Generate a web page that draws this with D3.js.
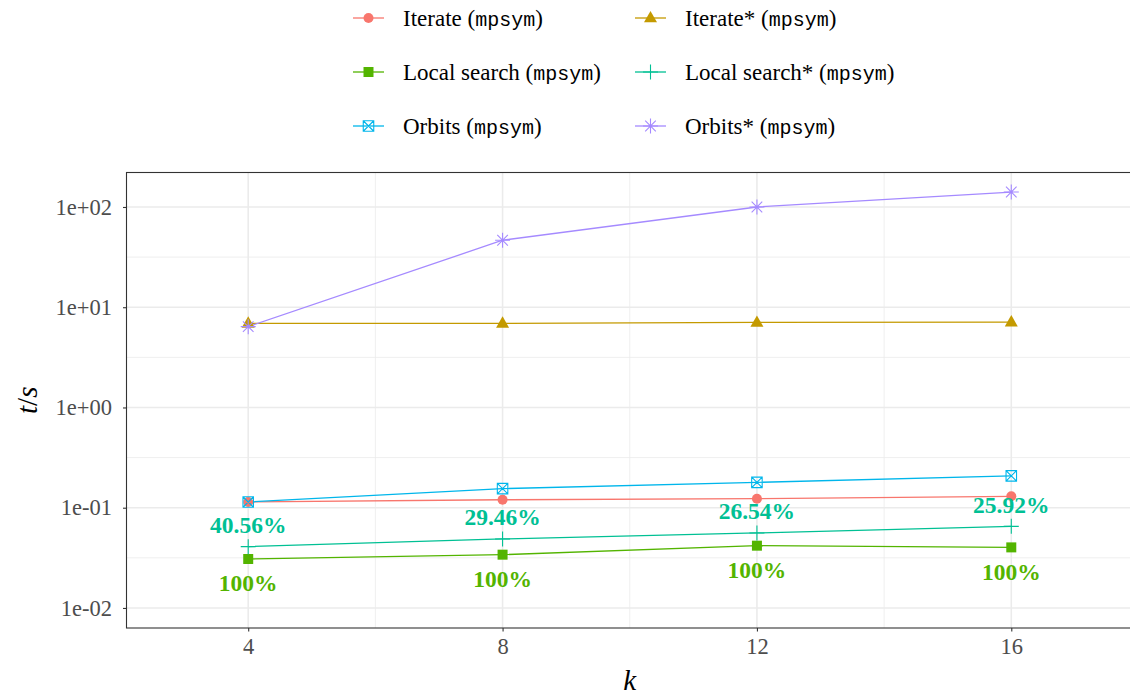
<!doctype html>
<html lang="en">
<head>
<meta charset="utf-8" />
<title>t/s vs k (mpsym)</title>
<script src="https://d3js.org/d3.v7.min.js"></script>
<style>
  body { margin: 0; background: #fff; }
  svg text { font-family: "Liberation Serif", "Times New Roman", serif; }
  .mono { font-family: "Liberation Mono", "DejaVu Sans Mono", monospace; }
</style>
</head>
<body>
<div id="chart"></div>
<script>
// data
var ks = [4, 8, 12, 16];
var seriesNames = ["Iterate", "Iterate*", "Local search", "Local search*", "Orbits", "Orbits*"];
var iterate = [0.114, 0.120, 0.123, 0.130];
var iterateStar = [6.9, 6.9, 7.05, 7.1];
var localSearch = [0.0308, 0.034, 0.0418, 0.0402];
var localSearchStar = [0.0409, 0.0488, 0.056, 0.0652];
var orbits = [0.114, 0.155, 0.179, 0.208];
var orbitsStar = [6.4, 46.6, 100, 141];
var starLabels = ["40.56%", "29.46%", "26.54%", "25.92%"];
var localLabels = ["100%", "100%", "100%", "100%"];
var xTicks = [4, 8, 12, 16];
var yTicks = [0.01, 0.1, 1, 10, 100];
var yTickLabels = ["1e-02", "1e-01", "1e+00", "1e+01", "1e+02"];

var colors = ["#F8766D", "#C49A00", "#53B400", "#00C094", "#00B6EB", "#A58AFF"];
var shapes = ["circle", "triangle", "square", "plus", "squarecross", "asterisk"];
var allValues = [iterate, iterateStar, localSearch, localSearchStar, orbits, orbitsStar];

var series = seriesNames.map(function (name, i) {
    return {
        name: name,
        color: colors[i],
        shape: shapes[i],
        values: ks.map(function (k, j) { return { k: k, v: allValues[i][j] }; })
    };
});

var width = 1130, height = 698;
var panel = { left: 126.5, top: 172.5, right: 1133, bottom: 628 };

var svg = d3.select("#chart").append("svg")
    .attr("width", width)
    .attr("height", height);

var x = d3.scaleLinear().domain([2.086, 17.914]).range([panel.left, panel.right]);
var y = d3.scaleLog().domain([Math.pow(10, -2.2), Math.pow(10, 2.344)]).range([panel.bottom, panel.top]);

// grid
var grid = svg.append("g");
[6, 10, 14].forEach(function (k) {
    grid.append("line").attr("x1", x(k)).attr("x2", x(k))
        .attr("y1", panel.top).attr("y2", panel.bottom)
        .attr("stroke", "#EBEBEB").attr("stroke-width", 0.8);
});
[-1.5, -0.5, 0.5, 1.5].forEach(function (e) {
    grid.append("line").attr("x1", panel.left).attr("x2", panel.right)
        .attr("y1", y(Math.pow(10, e))).attr("y2", y(Math.pow(10, e)))
        .attr("stroke", "#EBEBEB").attr("stroke-width", 0.8);
});
xTicks.forEach(function (k) {
    grid.append("line").attr("x1", x(k)).attr("x2", x(k))
        .attr("y1", panel.top).attr("y2", panel.bottom)
        .attr("stroke", "#EBEBEB").attr("stroke-width", 1.6);
});
yTicks.forEach(function (v) {
    grid.append("line").attr("x1", panel.left).attr("x2", panel.right)
        .attr("y1", y(v)).attr("y2", y(v))
        .attr("stroke", "#EBEBEB").attr("stroke-width", 1.6);
});

// marker paths, centred on 0,0
function markerPath(shape, s) {
    if (shape === "circle") return d3.symbol(d3.symbolCircle, Math.PI * s * s / 4)();
    if (shape === "square") return "M" + (-s / 2) + "," + (-s / 2) + "h" + s + "v" + s + "h" + (-s) + "z";
    if (shape === "triangle") {
        var h = s * 0.87;
        return "M0," + (-h * 0.62) + "L" + (s / 2) + "," + (h * 0.38) + "L" + (-s / 2) + "," + (h * 0.38) + "z";
    }
    if (shape === "plus") return "M" + (-s / 2) + ",0H" + (s / 2) + "M0," + (-s / 2) + "V" + (s / 2);
    if (shape === "squarecross") {
        var a = s / 2;
        return "M" + (-a) + "," + (-a) + "h" + s + "v" + s + "h" + (-s) + "z" +
            "M" + (-a) + "," + (-a) + "L" + a + "," + a + "M" + a + "," + (-a) + "L" + (-a) + "," + a;
    }
    if (shape === "asterisk") {
        var r = s / 2, d = r * 0.7071;
        return "M" + (-r) + ",0H" + r + "M" + (-d) + "," + (-d) + "L" + d + "," + d +
            "M" + d + "," + (-d) + "L" + (-d) + "," + d + "M0," + (-r) + "V" + r;
    }
}
var markerSize = { circle: 10, triangle: 13, square: 10, plus: 15, squarecross: 10.5, asterisk: 15 };
function isFilled(shape) { return shape === "circle" || shape === "square" || shape === "triangle"; }

function drawMarker(g, shape, color) {
    g.append("path")
        .attr("d", markerPath(shape, markerSize[shape]))
        .attr("fill", isFilled(shape) ? color : "none")
        .attr("stroke", color)
        .attr("stroke-width", isFilled(shape) ? 0 : 1.1);
}

// lines
var line = d3.line().x(function (d) { return x(d.k); }).y(function (d) { return y(d.v); });
svg.append("g").selectAll("path")
    .data(series)
    .enter().append("path")
    .attr("d", function (d) { return line(d.values); })
    .attr("fill", "none")
    .attr("stroke", function (d) { return d.color; })
    .attr("stroke-width", 1.3);

// points
series.forEach(function (s) {
    s.values.forEach(function (p) {
        var g = svg.append("g").attr("transform", "translate(" + x(p.k) + "," + y(p.v) + ")");
        drawMarker(g, s.shape, s.color);
    });
});

// percentage labels
svg.append("g").selectAll("text")
    .data(ks)
    .enter().append("text")
    .attr("x", function (k) { return x(k); })
    .attr("y", function (k, i) { return y(localSearchStar[i]) - 22; })
    .attr("dy", "0.35em")
    .attr("text-anchor", "middle")
    .attr("font-weight", "bold")
    .attr("font-size", 23.5)
    .attr("fill", colors[3])
    .text(function (k, i) { return starLabels[i]; });

svg.append("g").selectAll("text")
    .data(ks)
    .enter().append("text")
    .attr("x", function (k) { return x(k); })
    .attr("y", function (k, i) { return y(localSearch[i]) + 24; })
    .attr("dy", "0.35em")
    .attr("text-anchor", "middle")
    .attr("font-weight", "bold")
    .attr("font-size", 23.5)
    .attr("fill", colors[2])
    .text(function (k, i) { return localLabels[i]; });

// panel border
svg.append("rect")
    .attr("x", panel.left).attr("y", panel.top)
    .attr("width", panel.right - panel.left).attr("height", panel.bottom - panel.top)
    .attr("fill", "none").attr("stroke", "#333333").attr("stroke-width", 1.1);

// axes
var xAxis = d3.axisBottom(x).tickValues(xTicks).tickSize(3.5).tickPadding(7).tickSizeOuter(0);
var gx = svg.append("g").attr("transform", "translate(0," + panel.bottom + ")").call(xAxis);
gx.select(".domain").remove();
gx.selectAll("line").attr("stroke", "#333333").attr("stroke-width", 1.1);
gx.selectAll("text").attr("font-size", 22.5).attr("fill", "#4D4D4D")
    .attr("font-family", "Liberation Serif, serif");

var yAxis = d3.axisLeft(y).tickValues(yTicks)
    .tickFormat(function (d, i) { return yTickLabels[i]; })
    .tickSize(3.5).tickPadding(11).tickSizeOuter(0);
var gy = svg.append("g").attr("transform", "translate(" + panel.left + ",0)").call(yAxis);
gy.select(".domain").remove();
gy.selectAll("line").attr("stroke", "#333333").attr("stroke-width", 1.1);
gy.selectAll("text").attr("font-size", 22.5).attr("fill", "#4D4D4D")
    .attr("font-family", "Liberation Serif, serif");

// axis titles
svg.append("text")
    .attr("x", x(10)).attr("y", 690)
    .attr("text-anchor", "middle")
    .attr("font-size", 29)
    .attr("font-style", "italic")
    .text("k");

var yt = svg.append("text")
    .attr("transform", "translate(37," + ((panel.top + panel.bottom) / 2) + ") rotate(-90)")
    .attr("text-anchor", "middle")
    .attr("font-size", 29);
yt.append("tspan").attr("font-style", "italic").text("t");
yt.append("tspan").text("/");
yt.append("tspan").attr("font-style", "italic").text("s");

// legend, two columns filled by row
var legend = svg.append("g");
var colX = [353, 635], rowY = [18, 72, 126];
series.forEach(function (s, i) {
    var cx = colX[i % 2], cy = rowY[Math.floor(i / 2)];
    var g = legend.append("g").attr("transform", "translate(" + cx + "," + cy + ")");
    g.append("line").attr("x1", 0).attr("x2", 31).attr("y1", 0).attr("y2", 0)
        .attr("stroke", s.color).attr("stroke-width", 1.3);
    drawMarker(g.append("g").attr("transform", "translate(15.5,0)"), s.shape, s.color);
    var t = g.append("text").attr("x", 50).attr("dy", "0.35em").attr("font-size", 23);
    t.append("tspan").text(s.name + " (");
    t.append("tspan").attr("class", "mono").attr("font-size", 20).text("mpsym");
    t.append("tspan").text(")");
});
</script>
</body>
</html>
